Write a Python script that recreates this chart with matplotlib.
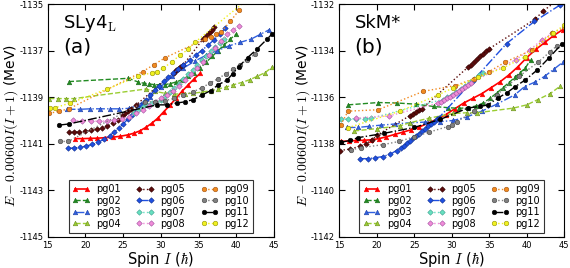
import numpy as np
import matplotlib
matplotlib.use("Agg")
import matplotlib.pyplot as plt

plt.rcParams['axes.unicode_minus'] = False
plt.rcParams['mathtext.fontset'] = 'cm'
plt.rcParams['font.family'] = 'DejaVu Sans'

labels = ['pg01', 'pg02', 'pg03', 'pg04', 'pg05', 'pg06',
          'pg07', 'pg08', 'pg09', 'pg10', 'pg11', 'pg12']

# ---- panel (a): SLy4_L ----
a01_I = [18.6, 19.6, 20.6, 21.6, 22.6, 23.6, 24.6, 25.6, 26.4, 27.2, 28.0, 28.8, 29.6, 30.4, 31.2, 32.0, 32.8, 33.6, 34.4, 35.2]
a01_E = [-1140.78, -1140.78, -1140.77, -1140.76, -1140.74, -1140.72, -1140.68, -1140.62, -1140.55, -1140.45, -1140.3, -1140.12, -1139.9, -1139.62, -1139.35, -1139.05, -1138.75, -1138.48, -1138.22, -1137.98]
a02_I = [17.8, 25.7, 27.0, 27.7, 28.4, 29.1, 29.8, 30.5, 31.2, 32.0, 32.8, 33.6, 34.4, 35.2, 36.0, 36.8, 37.6, 38.4, 39.2, 40.0]
a02_E = [-1138.33, -1138.19, -1138.35, -1138.4, -1138.43, -1138.46, -1138.47, -1138.46, -1138.42, -1138.35, -1138.25, -1138.1, -1137.95, -1137.75, -1137.5, -1137.25, -1137.0, -1136.75, -1136.5, -1136.3]
a03_I = [17.5, 19.3, 20.6, 21.9, 23.2, 24.5, 25.8, 27.0, 28.5, 30.0, 31.5, 33.0, 34.5, 36.0, 37.5, 39.0, 40.5, 42.0, 43.2, 44.4]
a03_E = [-1139.52, -1139.52, -1139.5, -1139.5, -1139.5, -1139.5, -1139.48, -1139.35, -1139.0, -1138.55, -1138.1, -1137.75, -1137.45, -1137.2, -1137.0, -1136.8, -1136.65, -1136.5, -1136.3, -1136.1]
a04_I = [15.2, 16.3, 17.4, 18.5, 28.0, 29.2, 30.5, 31.8, 33.2, 34.3, 35.5, 36.6, 37.6, 38.6, 39.6, 40.7, 41.8, 42.8, 43.8, 44.8]
a04_E = [-1139.06, -1139.06, -1139.06, -1139.06, -1138.65, -1138.75, -1138.83, -1138.87, -1138.85, -1138.83, -1138.78, -1138.72, -1138.65, -1138.57, -1138.47, -1138.37, -1138.25, -1138.1, -1137.95, -1137.7]
a05_I = [17.8, 18.5, 19.2, 19.9, 20.7, 21.5, 22.2, 22.9, 23.6, 24.3, 25.0, 25.3, 25.6, 26.0, 26.7, 31.7, 32.0, 32.3, 32.6, 33.0, 35.6, 35.9, 36.2, 36.5, 36.8, 37.1]
a05_E = [-1140.49, -1140.49, -1140.49, -1140.47, -1140.43, -1140.38, -1140.32, -1140.24, -1140.13, -1139.98, -1139.77, -1139.68, -1139.6, -1139.5, -1139.34, -1137.95, -1137.85, -1137.78, -1137.7, -1137.6, -1136.5, -1136.4, -1136.3, -1136.2, -1136.1, -1136.0]
a06_I = [17.7, 18.5, 19.3, 20.1, 20.9, 21.7, 22.5, 23.2, 23.8, 24.4, 25.0, 25.6, 26.2, 26.8, 27.4, 28.0, 28.6, 29.2, 29.8, 30.4, 31.0, 31.6, 32.3, 33.0, 33.8, 34.6, 35.4, 36.2, 37.0, 37.8, 38.5]
a06_E = [-1141.2, -1141.18, -1141.15, -1141.1, -1141.03, -1140.93, -1140.8, -1140.65, -1140.5, -1140.33, -1140.15, -1139.95, -1139.75, -1139.55, -1139.35, -1139.12, -1138.9, -1138.7, -1138.5, -1138.32, -1138.15, -1137.98, -1137.8, -1137.62, -1137.42, -1137.2, -1137.0, -1136.78, -1136.55, -1136.3, -1136.05]
a07_I = [26.4, 27.0, 27.6, 28.2, 28.8, 29.4, 30.0, 30.6, 31.2, 31.8, 32.4, 33.0, 33.6, 34.2, 34.8, 35.4, 36.0, 36.6, 37.2, 37.8, 38.4]
a07_E = [-1139.7, -1139.55, -1139.42, -1139.32, -1139.25, -1139.2, -1139.1, -1138.95, -1138.78, -1138.6, -1138.42, -1138.22, -1138.02, -1137.82, -1137.62, -1137.42, -1137.22, -1137.02, -1136.85, -1136.68, -1136.5]
a08_I = [18.4, 19.6, 20.7, 21.8, 22.8, 23.8, 24.8, 25.8, 26.7, 27.6, 28.4, 29.2, 30.0, 30.8, 31.6, 32.4, 33.2, 34.0, 34.8, 35.6, 36.4, 37.2, 38.0, 38.8, 39.6, 40.3]
a08_E = [-1140.0, -1140.02, -1140.03, -1140.03, -1140.02, -1140.0, -1139.93, -1139.83, -1139.7, -1139.55, -1139.38, -1139.2, -1139.05, -1138.9, -1138.72, -1138.5, -1138.25, -1138.0, -1137.75, -1137.5, -1137.2, -1136.9, -1136.6, -1136.3, -1136.1, -1135.95]
a09_I = [15.2, 16.5, 17.8, 27.6, 29.1, 30.6, 35.9, 36.6, 37.3, 38.0, 39.2, 40.4]
a09_E = [-1139.7, -1139.6, -1139.5, -1137.9, -1137.6, -1137.3, -1136.5, -1136.4, -1136.3, -1136.2, -1135.75, -1135.25]
a10_I = [16.6, 17.7, 27.9, 29.2, 30.5, 31.8, 33.0, 34.2, 35.4, 36.5, 37.6, 38.6, 39.6, 40.5, 41.4, 42.5]
a10_E = [-1140.9, -1140.9, -1139.2, -1139.2, -1139.15, -1139.05, -1138.92, -1138.78, -1138.6, -1138.4, -1138.2, -1138.0, -1137.8, -1137.6, -1137.4, -1137.15]
a11_I = [16.5, 17.8, 29.5, 30.8, 32.1, 33.2, 34.3, 35.5, 36.6, 37.6, 38.8, 39.5, 40.3, 41.5, 42.7, 44.1, 44.7]
a11_E = [-1140.2, -1140.15, -1139.33, -1139.33, -1139.25, -1139.2, -1139.1, -1138.9, -1138.72, -1138.47, -1138.26, -1138.0, -1137.7, -1137.3, -1136.95, -1136.5, -1136.3]
a12_I = [15.3, 16.0, 18.0, 22.9, 27.0, 28.8, 29.5, 30.3, 31.5, 32.5, 33.6, 34.5, 41.5]
a12_E = [-1139.47, -1139.45, -1139.25, -1138.65, -1138.1, -1137.95, -1137.9, -1137.75, -1137.48, -1137.2, -1136.95, -1136.65, -1134.8]

# ---- panel (b): SkM* ----
b01_I = [15.3, 16.3, 17.3, 18.3, 19.3, 20.3, 21.3, 22.4, 23.5, 24.6, 25.7, 26.8, 28.0, 29.2, 30.4, 31.6, 32.8, 34.0, 35.2, 36.4, 37.6, 38.8, 40.0, 41.2, 42.4, 43.6, 44.8]
b01_E = [-1137.9, -1137.88, -1137.86, -1137.85, -1137.83, -1137.78, -1137.7, -1137.6, -1137.5, -1137.4, -1137.28, -1137.12, -1136.95, -1136.75, -1136.5, -1136.25, -1136.05, -1135.85, -1135.6, -1135.35, -1135.05, -1134.7, -1134.3, -1133.95, -1133.65, -1133.35, -1133.1]
b02_I = [16.2, 20.2, 22.7, 25.2, 27.6, 29.5, 31.0, 32.2, 33.2, 34.2, 35.1, 36.0, 36.8, 37.6, 38.4, 39.1, 39.8, 40.5]
b02_E = [-1136.33, -1136.23, -1136.25, -1136.3, -1136.4, -1136.45, -1136.48, -1136.45, -1136.38, -1136.25, -1136.05, -1135.82, -1135.6, -1135.38, -1135.15, -1134.95, -1134.75, -1134.4]
b03_I = [16.0, 17.5, 19.0, 20.6, 22.5, 24.4, 26.5, 28.5, 30.2, 32.0, 34.0, 36.0, 38.4, 39.7, 41.1, 42.4, 43.6, 44.8]
b03_E = [-1137.3, -1137.3, -1137.25, -1137.2, -1137.15, -1137.1, -1137.07, -1137.05, -1137.0, -1136.85, -1136.6, -1136.3, -1135.9, -1135.55, -1135.35, -1135.1, -1134.8, -1134.5]
b04_I = [17.0, 20.0, 23.1, 24.4, 27.0, 30.2, 32.0, 33.4, 38.2, 40.0, 41.5, 43.1, 44.4]
b04_E = [-1137.45, -1137.35, -1137.23, -1137.1, -1136.9, -1136.7, -1136.67, -1136.67, -1136.47, -1136.33, -1136.1, -1135.85, -1135.54]
b05_I = [15.1, 16.4, 17.75, 18.6, 19.4, 20.1, 24.4, 24.8, 25.2, 25.6, 26.0, 32.2, 32.6, 33.0, 33.4, 33.8, 34.2, 34.6, 35.0, 41.1, 42.2, 45.0]
b05_E = [-1138.29, -1138.23, -1138.11, -1138.0, -1137.83, -1137.62, -1136.8, -1136.72, -1136.65, -1136.57, -1136.5, -1134.7, -1134.6, -1134.48, -1134.37, -1134.25, -1134.14, -1134.02, -1133.92, -1132.65, -1132.3, -1131.6]
b06_I = [17.75, 18.8, 19.8, 20.8, 21.8, 22.65, 23.2, 23.6, 24.0, 24.4, 24.8, 25.2, 25.6, 26.0, 26.4, 26.8, 27.2, 27.6, 28.0, 28.3, 32.8, 37.3, 41.0, 44.4]
b06_E = [-1138.64, -1138.64, -1138.6, -1138.55, -1138.45, -1138.29, -1138.18, -1138.08, -1137.98, -1137.87, -1137.77, -1137.66, -1137.56, -1137.45, -1137.35, -1137.25, -1137.15, -1137.05, -1136.95, -1136.88, -1135.3, -1133.7, -1132.75, -1132.05]
b07_I = [15.3, 16.2, 17.2, 18.4, 19.3, 28.8, 29.4, 30.0, 30.6, 31.2, 31.8, 32.4, 33.0, 33.6, 34.2]
b07_E = [-1136.95, -1136.94, -1136.92, -1136.92, -1136.9, -1136.1, -1136.0, -1135.9, -1135.78, -1135.65, -1135.5, -1135.35, -1135.2, -1135.05, -1134.95]
b08_I = [17.2, 21.7, 28.2, 28.6, 29.0, 29.4, 29.8, 30.2, 30.6, 31.0, 31.4, 31.8, 32.2, 32.6, 38.5, 40.4, 42.0, 43.4]
b08_E = [-1136.9, -1136.8, -1136.25, -1136.2, -1136.12, -1136.05, -1135.98, -1135.9, -1135.82, -1135.73, -1135.64, -1135.55, -1135.46, -1135.37, -1134.4, -1133.97, -1133.54, -1133.26]
b09_I = [15.2, 16.2, 20.2, 26.2, 30.5, 33.0, 35.0, 37.1, 40.7, 43.4, 45.0]
b09_E = [-1137.19, -1136.6, -1136.54, -1135.75, -1135.5, -1135.2, -1134.9, -1134.5, -1133.97, -1133.25, -1133.0]
b10_I = [16.6, 17.9, 20.8, 23.0, 25.0, 27.0, 29.5, 30.0, 30.7, 33.0, 36.0, 39.0, 41.5, 43.1, 44.0]
b10_E = [-1138.26, -1138.17, -1138.04, -1137.9, -1137.7, -1137.5, -1137.26, -1137.2, -1137.05, -1136.6, -1135.9, -1135.1, -1134.5, -1134.05, -1133.8]
b11_I = [15.2, 16.4, 17.5, 21.0, 25.0, 28.5, 32.2, 33.8, 34.8, 36.2, 37.4, 38.4, 39.8, 41.4, 43.0, 44.7]
b11_E = [-1137.94, -1137.86, -1137.74, -1137.55, -1137.3, -1136.95, -1136.46, -1136.4, -1136.33, -1136.03, -1135.8, -1135.56, -1135.26, -1134.83, -1134.3, -1133.7]
b12_I = [16.2, 23.1, 28.2, 30.2, 33.5, 36.8, 39.8, 43.5, 45.0]
b12_E = [-1137.31, -1136.6, -1135.9, -1135.6, -1135.15, -1134.75, -1134.26, -1133.26, -1132.9]

colors = ['red', '#228b22', '#3060e0', '#9acd32', '#5a0a0a', '#1f4fe0',
          '#66e0c0', '#f08cd8', '#f08a20', '#808080', 'black', '#f0f020']
markers = ['^', '^', '^', '^', 'D', 'D', 'D', 'D', 'o', 'o', 'o', 'o']
styles = ['-', '--', '-.', '--', ':', '-.', ':', ':', ':', ':', '-.', ':']
mec = ['red', '#1a6a1a', '#2040a0', '#6a8a20', '#300000', '#103090',
       '#40a090', '#a050a0', '#a05010', '#404040', 'black', '#909000']

panel_a = [(a01_I, a01_E), (a02_I, a02_E), (a03_I, a03_E), (a04_I, a04_E),
           (a05_I, a05_E), (a06_I, a06_E), (a07_I, a07_E), (a08_I, a08_E),
           (a09_I, a09_E), (a10_I, a10_E), (a11_I, a11_E), (a12_I, a12_E)]
panel_b = [(b01_I, b01_E), (b02_I, b02_E), (b03_I, b03_E), (b04_I, b04_E),
           (b05_I, b05_E), (b06_I, b06_E), (b07_I, b07_E), (b08_I, b08_E),
           (b09_I, b09_E), (b10_I, b10_E), (b11_I, b11_E), (b12_I, b12_E)]

fig = plt.figure(figsize=(5.7, 2.68), dpi=100)
ax_a = fig.add_axes([0.0837, 0.116, 0.397, 0.869])
ax_b = fig.add_axes([0.595, 0.116, 0.395, 0.869])

for ax, data, ylim, name, tag in [(ax_a, panel_a, (-1145, -1135), 'SLy4$_{\\mathrm{L}}$', '(a)'),
                                  (ax_b, panel_b, (-1142, -1132), 'SkM*', '(b)')]:
    for k, (I, E) in enumerate(data):
        ms = 3.3 if markers[k] != 'D' else 2.8
        ax.plot(I, E, linestyle=styles[k], color=colors[k], marker=markers[k],
                markersize=ms, markerfacecolor=colors[k], markeredgecolor=mec[k],
                markeredgewidth=0.4, linewidth=1.2 if k == 0 else 1.0, label=labels[k])
    ax.set_xlim(15, 45)
    ax.set_ylim(*ylim)
    ax.set_xticks(np.arange(15, 46, 5))
    ax.set_yticks(np.arange(ylim[0], ylim[1] + 1, 2))
    ax.tick_params(direction='in', top=True, right=True, length=4, labelsize=6, pad=3)
    ax.set_xlabel('Spin $I$ ($\\hbar$)', fontsize=10.5)
    ax.xaxis.set_label_coords(0.5, -0.058)
    ax.set_ylabel('$E-0.00600I(I+1)$ (MeV)', fontsize=10)
    ax.yaxis.set_label_coords(-0.122, 0.48)
    ax.text(0.068, 0.897, name, transform=ax.transAxes, fontsize=13)
    ax.text(0.068, 0.79, tag, transform=ax.transAxes, fontsize=14.5)
    leg = ax.legend(loc='lower center', ncol=3, numpoints=2, fontsize=7,
                    handlelength=1.75, handletextpad=0.7, columnspacing=1.6,
                    labelspacing=0.15, borderaxespad=0.45, borderpad=0.4,
                    fancybox=False, framealpha=1)
    leg.get_frame().set_edgecolor('0.2')
    leg.get_frame().set_linewidth(0.8)

fig.savefig('out.png', dpi=100)
